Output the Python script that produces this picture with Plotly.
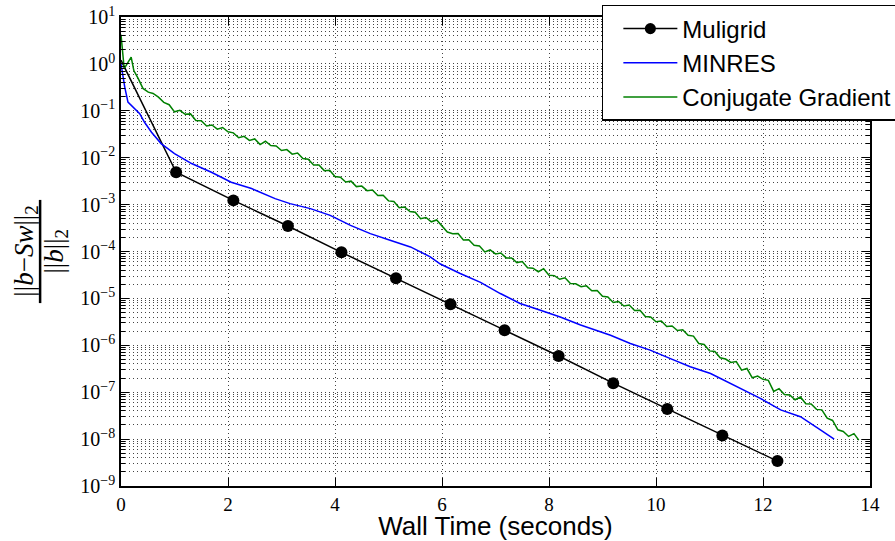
import plotly.graph_objects as go

# Residual history: ||b - S w||_2 / ||b||_2 against wall-clock time (s)

# Multigrid: one point per V-cycle
mg_time = [0.0, 1.03, 2.10, 3.12, 4.12, 5.14, 6.16, 7.17, 8.18, 9.20, 10.21, 11.24, 12.27]
mg_resid = [1.2, 4.9e-3, 1.23e-3, 3.5e-4, 9.6e-5, 2.7e-5, 7.5e-6, 2.1e-6, 5.9e-7,
            1.56e-7, 4.4e-8, 1.2e-8, 3.4e-9]

# MINRES
minres_time = [0.0, 0.07, 0.13, 0.22, 0.35, 0.44, 0.57, 0.75, 1.00, 1.32, 1.69, 2.06,
               2.44, 2.88, 3.16, 3.54, 3.91, 4.29, 4.66, 5.03, 5.41, 5.78, 5.97, 6.34,
               6.72, 7.09, 7.46, 7.84, 8.21, 8.59, 8.77, 9.15, 9.52, 9.89, 10.27, 10.64,
               11.02, 11.39, 11.58, 11.95, 12.33, 12.70, 13.08, 13.33]
minres_resid = [1.0, 0.32, 0.153, 0.12, 0.087, 0.057, 0.035, 0.020, 0.0122, 7.5e-3,
                4.9e-3, 3.0e-3, 2.2e-3, 1.34e-3, 1.05e-3, 8.2e-4, 5.9e-4, 3.6e-4, 2.4e-4,
                1.74e-4, 1.25e-4, 7.7e-5, 5.4e-5, 3.4e-5, 2.2e-5, 1.27e-5, 7.8e-6, 5.6e-6,
                4.0e-6, 2.7e-6, 2.3e-6, 1.64e-6, 1.09e-6, 7.9e-7, 5.2e-7, 3.5e-7, 2.5e-7,
                1.54e-7, 1.2e-7, 7.4e-8, 4.2e-8, 3.0e-8, 1.56e-8, 1.0e-8]

# Conjugate Gradient (oscillating residual)
cg_time = [0.0, 0.06, 0.19, 0.24, 0.32, 0.41, 0.51, 0.60,
           0.7, 0.8, 0.9, 1.0, 1.1, 1.2, 1.3, 1.4, 1.5, 1.6, 1.7, 1.8, 1.9,
           2.0, 2.1, 2.2, 2.3, 2.4, 2.5, 2.6, 2.7, 2.8, 2.9,
           3.0, 3.1, 3.2, 3.3, 3.4, 3.5, 3.6, 3.7, 3.8, 3.9,
           4.0, 4.1, 4.2, 4.3, 4.4, 4.5, 4.6, 4.7, 4.8, 4.9,
           5.0, 5.1, 5.2, 5.3, 5.4, 5.5, 5.6, 5.7, 5.8, 5.9,
           6.0, 6.1, 6.2, 6.3, 6.4, 6.5, 6.6, 6.7, 6.8, 6.9,
           7.0, 7.1, 7.2, 7.3, 7.4, 7.5, 7.6, 7.7, 7.8, 7.9,
           8.0, 8.1, 8.2, 8.3, 8.4, 8.5, 8.6, 8.7, 8.8, 8.9,
           9.0, 9.1, 9.2, 9.3, 9.4, 9.5, 9.6, 9.7, 9.8, 9.9,
           10.0, 10.1, 10.2, 10.3, 10.4, 10.5, 10.6, 10.7, 10.8, 10.9,
           11.0, 11.1, 11.2, 11.3, 11.4, 11.5, 11.6, 11.7, 11.8, 11.9,
           12.0, 12.1, 12.2, 12.3, 12.4, 12.5, 12.6, 12.7, 12.8, 12.9,
           13.0, 13.1, 13.2, 13.3, 13.4, 13.5, 13.6, 13.7, 13.79]
cg_resid = [4.2, 0.79, 1.39, 0.72, 0.49, 0.30, 0.25, 0.235,
            0.195, 0.151, 0.135, 0.095, 0.102, 0.0843, 0.0859, 0.0624, 0.0615, 0.0473,
            0.0499, 0.0407, 0.044,
            0.0357, 0.0339, 0.0266, 0.0286, 0.0234, 0.0251, 0.0191, 0.0224, 0.0182, 0.0178,
            0.0142, 0.0149, 0.0119, 0.0126, 9.6e-3, 9.3e-3, 6.95e-3, 6.97e-3, 5.3e-3, 5.4e-3,
            3.98e-3, 3.84e-3, 3.04e-3, 3.16e-3, 2.42e-3, 2.48e-3, 1.98e-3, 2.05e-3, 1.57e-3,
            1.58e-3,
            1.20e-3, 1.17e-3, 8.6e-4, 8.9e-4, 7.1e-4, 6.9e-4, 5.0e-4, 5.3e-4, 4.3e-4, 4.7e-4,
            3.47e-4, 2.6e-4, 2.4e-4, 2.42e-4, 1.76e-4, 1.78e-4, 1.36e-4, 1.31e-4, 9.8e-5,
            1.08e-4,
            8.9e-5, 9.3e-5, 7.3e-5, 7.3e-5, 5.8e-5, 6.1e-5, 4.5e-5, 4.4e-5, 3.7e-5, 4.3e-5,
            3.13e-5, 3.06e-5, 2.56e-5, 2.75e-5, 2.07e-5, 2.05e-5, 1.77e-5, 1.85e-5, 1.46e-5,
            1.47e-5,
            1.11e-5, 1.07e-5, 8.2e-6, 8.6e-6, 6.9e-6, 7.2e-6, 5.5e-6, 5.6e-6, 4.1e-6, 4.0e-6,
            3.17e-6, 3.29e-6, 2.52e-6, 2.58e-6, 2.07e-6, 2.14e-6, 1.64e-6, 1.57e-6, 1.09e-6,
            1.04e-6,
            7.6e-7, 7.4e-7, 5.4e-7, 5.1e-7, 4.3e-7, 4.5e-7, 2.95e-7, 3.2e-7, 2.03e-7, 2.2e-7,
            1.88e-7, 1.79e-7, 1.04e-7, 1.19e-7, 8.95e-8, 8.7e-8, 6.9e-8, 7.9e-8, 5.7e-8,
            5.6e-8,
            4.3e-8, 4.2e-8, 2.8e-8, 2.5e-8, 1.58e-8, 1.45e-8, 1.14e-8, 1.31e-8, 9.5e-9]

# Axis ticks
x_ticks = [0, 2, 4, 6, 8, 10, 12, 14]
y_exponents = list(range(-9, 2))
y_ticks = [10.0 ** k for k in y_exponents]
y_ticktext = ["10<sup>%s</sup>" % (str(k).replace("-", "\u2212")) for k in y_exponents]
y_minor = [m * 10.0 ** k for k in range(-9, 1) for m in range(2, 10)]

serif = "Liberation Serif"
sans = "Liberation Sans"
grid_dash = "1px,3px"
grid_color = "#444444"

fig = go.Figure()

fig.add_trace(go.Scatter(
    x=mg_time, y=mg_resid, name="Muligrid", mode="lines+markers",
    line=dict(color="black", width=1.5),
    marker=dict(color="black", opacity=1, line=dict(width=0),
                size=[0] + [12] * (len(mg_time) - 1)),
))
fig.add_trace(go.Scatter(
    x=minres_time, y=minres_resid, name="MINRES", mode="lines",
    line=dict(color="#0000ff", width=1.5),
))
fig.add_trace(go.Scatter(
    x=cg_time, y=cg_resid, name="Conjugate Gradient", mode="lines",
    line=dict(color="#008000", width=1.5),
))

axis_common = dict(
    showline=True, linecolor="black", linewidth=1.5, mirror="allticks",
    ticks="inside", ticklen=8, tickwidth=1, tickcolor="black",
    showgrid=True, gridcolor=grid_color, gridwidth=1, griddash=grid_dash,
    zeroline=False,
)

fig.update_xaxes(
    range=[0, 14], tickvals=x_ticks, ticktext=[str(v) for v in x_ticks],
    tickfont=dict(family=serif, size=19, color="black"),
    title=dict(text="Wall Time (seconds)", font=dict(family=sans, size=26, color="black"),
               standoff=7),
    **axis_common,
)
fig.update_yaxes(
    type="log", range=[-9, 1], tickvals=y_ticks, ticktext=y_ticktext,
    tickfont=dict(family=serif, size=20, color="black"),
    minor=dict(tickvals=y_minor, ticks="inside", ticklen=4, tickcolor="black",
               showgrid=True, gridcolor=grid_color, gridwidth=1, griddash=grid_dash),
    **axis_common,
)

# y-axis label drawn as a stacked fraction
fig.add_annotation(
    text="||<i>b</i>\u2212<i>Sw</i>||<sub>2</sub>", textangle=-90,
    xref="paper", yref="paper", x=-0.128, y=0.5, xanchor="center", yanchor="middle",
    showarrow=False, font=dict(family=serif, size=27, color="black"),
)
fig.add_annotation(
    text="||<i>b</i>||<sub>2</sub>", textangle=-90,
    xref="paper", yref="paper", x=-0.088, y=0.5, xanchor="center", yanchor="middle",
    showarrow=False, font=dict(family=serif, size=27, color="black"),
)
fig.add_shape(
    type="line", xref="paper", yref="paper", x0=-0.108, x1=-0.108, y0=0.39, y1=0.61,
    line=dict(color="black", width=2.5),
)

fig.update_layout(
    width=895, height=541,
    margin=dict(l=121, r=25, t=17, b=55, autoexpand=False),
    plot_bgcolor="white", paper_bgcolor="white",
    legend=dict(
        x=0.642, y=1.0256, xanchor="left", yanchor="top",
        bgcolor="white", bordercolor="black", borderwidth=1.5,
        font=dict(family=sans, size=24, color="black"),
        itemwidth=54, indentation=15,
    ),
)

fig.write_html("out.html")
